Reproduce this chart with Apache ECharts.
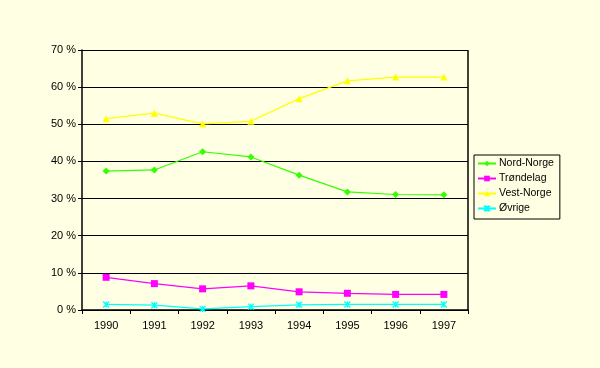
<!DOCTYPE html>
<html><head><meta charset="utf-8">
<script src="https://cdn.jsdelivr.net/npm/echarts@6/dist/echarts.min.js"></script>
<style>html,body{margin:0;padding:0;background:#FFFFE3;}#c{width:600px;height:368px;}</style>
</head><body><div id="c"></div>
<script>
const years = ['1990','1991','1992','1993','1994','1995','1996','1997'];
const nordNorge = [37.4, 37.7, 42.6, 41.2, 36.3, 31.8, 31.1, 31.0];
const trondelag = [8.8, 7.1, 5.7, 6.5, 4.9, 4.5, 4.2, 4.2];
const vestNorge = [51.5, 53.0, 50.1, 50.8, 56.9, 61.7, 62.7, 62.7];
const ovrige = [1.5, 1.3, 0.3, 0.9, 1.4, 1.5, 1.5, 1.5];
const yTicks = [0,10,20,30,40,50,60,70];

const font = 'Liberation Sans, Arial, sans-serif';
function s(name, data, color, symbol, size, stroke){
  return {name, type:'line', data, symbol, symbolSize:size, showSymbol:true,
    lineStyle:{color, width:1.2},
    itemStyle: stroke ? {color, borderColor:color, borderWidth:1.3} : {color},
    animation:false};
}
const chart = echarts.init(document.getElementById('c'));
chart.setOption({
  backgroundColor:'#FFFFE3',
  animation:false,
  grid:{left:82, right:132, top:50, bottom:58, show:true, backgroundColor:'#FFFFE3', borderColor:'#000', borderWidth:0},
  xAxis:{type:'category', data:years, boundaryGap:true,
    axisLine:{lineStyle:{color:'#000', width:1.5}},
    axisTick:{show:true, inside:false, length:4, lineStyle:{color:'#000'}},
    axisLabel:{color:'#000', fontFamily:font, fontSize:11, margin:10}},
  yAxis:{type:'value', min:0, max:70, interval:10,
    axisLine:{show:true, lineStyle:{color:'#000', width:1.5}},
    axisTick:{show:true, length:4, lineStyle:{color:'#000'}},
    splitLine:{show:true, lineStyle:{color:'#000', width:1}},
    axisLabel:{color:'#000', fontFamily:font, fontSize:11, margin:6, formatter:v=>v+' %'}},
  legend:{orient:'vertical', left:474, top:155, itemWidth:18, itemHeight:7, itemGap:4,
    padding:[3,6,5,3], borderColor:'#000', borderWidth:1, backgroundColor:'#FFFFE3',
    textStyle:{color:'#000', fontFamily:font, fontSize:10.5, padding:[0,0,0,-2]},
    data:['Nord-Norge','Trøndelag','Vest-Norge','Øvrige']},
  graphic:[{type:'line', shape:{x1:468, y1:50, x2:468, y2:310}, style:{stroke:'#000', lineWidth:1.5}, silent:true}],
  series:[
    s('Nord-Norge', nordNorge, '#33FF00', 'diamond', 7),
    s('Trøndelag', trondelag, '#FF00FF', 'rect', 7),
    s('Vest-Norge', vestNorge, '#FFFF00', 'triangle', 7),
    s('Øvrige', ovrige, '#00FFFF', 'path://M0,0L10,10M10,0L0,10M5,0L5,10', 6, true)
  ]
});
</script></body></html>
